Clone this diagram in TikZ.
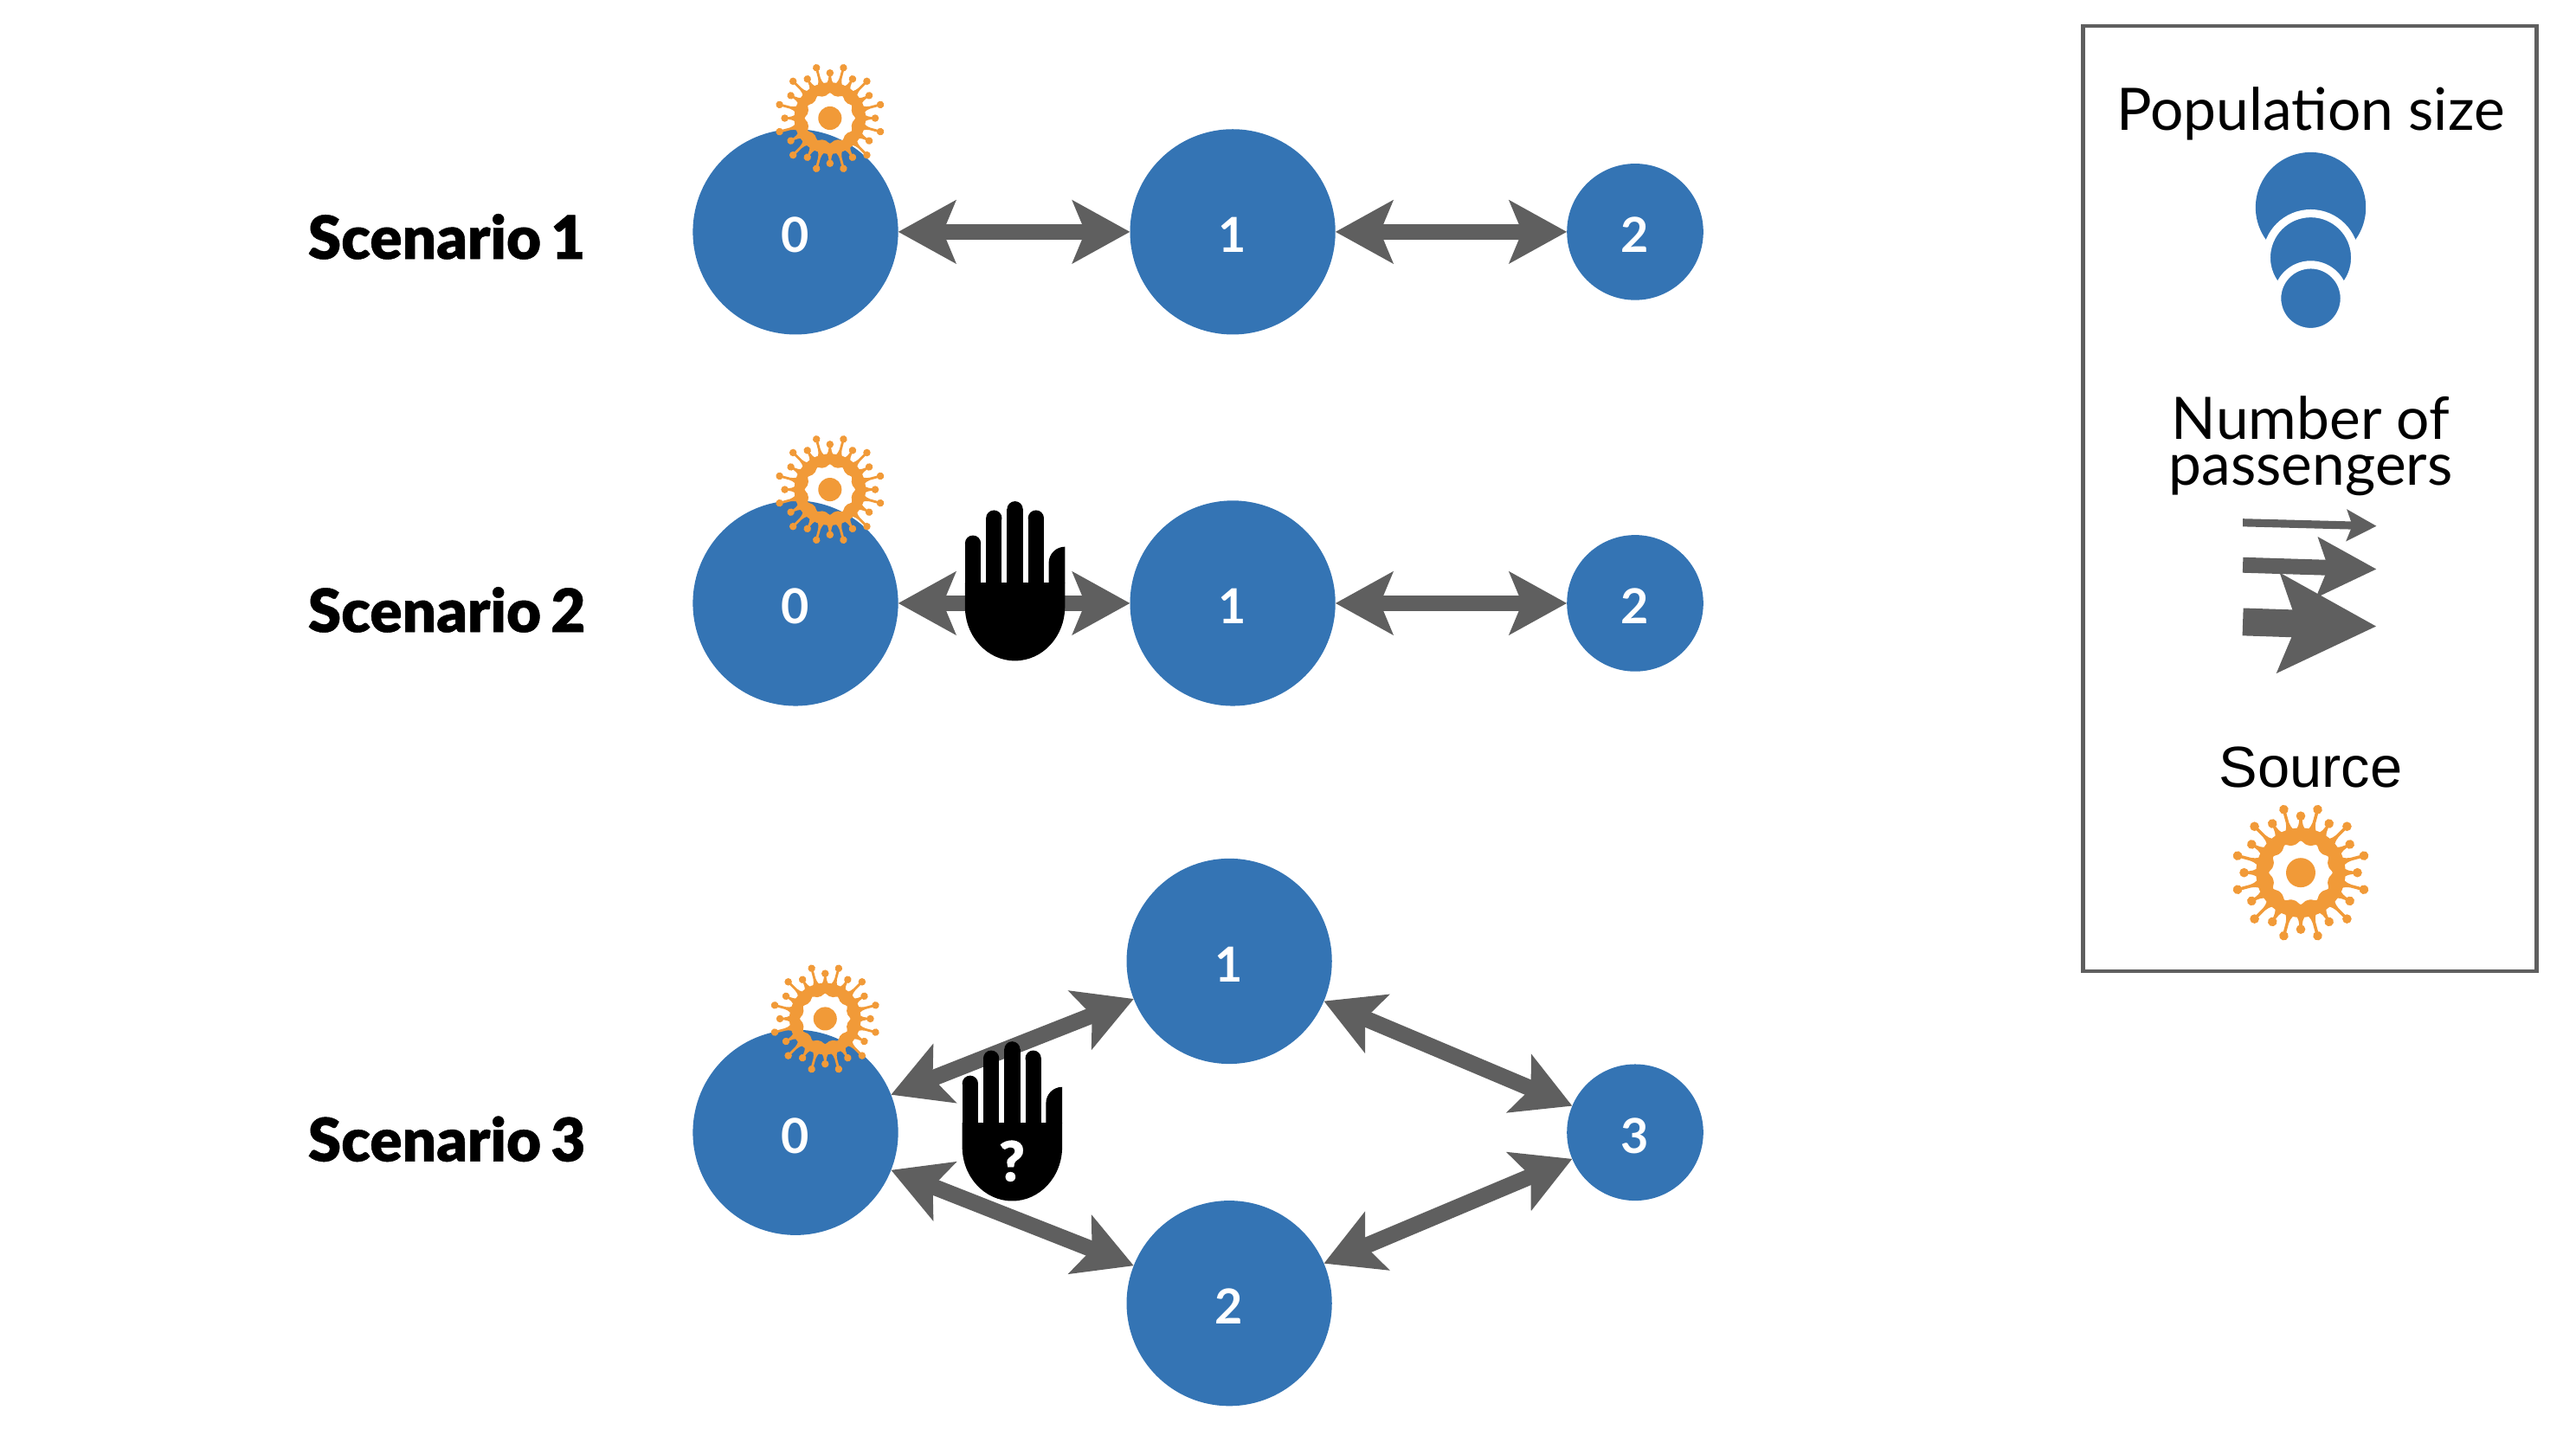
\documentclass[tikz,border=0pt]{standalone}
\usepackage{fontspec}
\setmainfont{Lato}
\newfontfamily\heavyfont[FakeBold=0.6, WordSpace=0.7]{Lato Black}
\newfontfamily\sourcefont{Liberation Sans}
\usetikzlibrary{arrows.meta, positioning}
\definecolor{popblue}{HTML}{3474B4}
\definecolor{linkgray}{HTML}{5F5F5F}
\definecolor{virusorange}{HTML}{F19A38}
\tikzset{
    population/.style = {
      circle, fill=popblue, text=white, inner sep=0, outer sep=0,
      text height=12pt, text depth=0pt,
      font=\fontsize{14}{14}\selectfont\bfseries,
    },
    pop big/.style = {population, minimum size=59.6pt},
    pop small/.style = {population, minimum size=39.6pt},
    pop legend/.style = {population, draw=white, line width=2.3pt},
    link/.style = {
      line width=4.7pt, linkgray,
      arrows={Stealth[length=16.6pt, width=18pt, inset=3.6pt]-Stealth[length=16.6pt, width=18pt, inset=3.6pt]},
    },
    scenario/.style = {anchor=west, inner sep=0, font=\fontsize{17.4}{17.4}\heavyfont},
    legend label/.style = {align=center, inner sep=0, font=\fontsize{17}{13.2}\selectfont},
    virus/.style = {fill=virusorange},
}
\newcommand{\virusspike}[2]{%
  \fill [virus, rotate=#1]
    (0.58,-0.08) .. controls (0.68,-0.03) and (0.70,-0.022) .. (0.74,-0.022)
    -- (#2,-0.022) -- (#2,0.022) -- (0.74,0.022)
    .. controls (0.70,0.022) and (0.68,0.03) .. (0.58,0.08) -- cycle
    (#2,0) circle (0.066);
}
\newcommand{\drawvirus}[2]{%
  %% Arguments:
  %%    1. Centre
  %%    2. Outer radius in pt
  \begin{scope}[shift={(#1)}, x=#2pt, y=#2pt]
    \fill [virus, even odd rule] (0,0) circle (0.64)
      plot [domain=0:350, samples=36, smooth cycle] (\x:{0.425+0.03*cos(12*\x)});
    \fill [virus] (0,0) circle (0.21);
    \foreach \a in {0,30,...,330}{%
      \virusspike{\a}{0.81}
    }
    \foreach \a in {15,45,...,345}{%
      \virusspike{\a}{0.935}
    }
  \end{scope}
}
\newcommand{\drawhand}[1]{%
  %% The argument is the point where the fingers meet the palm
  \begin{scope}[shift={(#1)}]
    \fill (-14.5,0) -- (14.5,0) -- (14.5,-7)
      arc [start angle=0, end angle=-180, x radius=14.5, y radius=15.7] -- cycle;
    \fill (9.8,-0.1) -- (9.8,5.7) arc [start angle=180, end angle=90, radius=4.7]
      -- (14.5,-0.1) -- cycle;
    \foreach \fx/\fy in {-12.2/11.4, -6.1/18.7, 0/21.3, 6.1/18.7}{%
      \fill (\fx-2.3,-0.1) rectangle (\fx+2.3,\fy);
      \fill (\fx,\fy) circle (2.3);
    }
  \end{scope}
}

\begin{document}
\begin{tikzpicture}[x=1pt, y=1pt]
    \useasboundingbox (0,0) rectangle (747.7,-416.6);

    %% Scenario 1
    \node [pop big] (s1_0) at (230.9,-67.3) {0};
    \node [pop big, right=67.3pt of s1_0] (s1_1) {1};
    \node [pop small, right=67.2pt of s1_1] (s1_2) {2};
    \node [scenario] (s1_label) at (89.2,-68.7) {Scenario 1};
    \draw [link] (s1_0) -- (s1_1);
    \draw [link] (s1_1) -- (s1_2);
    \drawvirus{240.9,-34.3}{16.2}

    %% Scenario 2
    \node [pop big, below=48.2pt of s1_0] (s2_0) {0};
    \node [pop big, right=67.3pt of s2_0] (s2_1) {1};
    \node [pop small, right=67.2pt of s2_1] (s2_2) {2};
    \node [scenario] (s2_label) at (89.2,-177) {Scenario 2};
    \draw [link] (s2_0) -- (s2_1);
    \draw [link] (s2_1) -- (s2_2);
    \drawvirus{240.9,-142.1}{16.2}
    \drawhand{294.6,-169.1}

    %% Scenario 3
    \node [pop big, below=94pt of s2_0] (s3_0) {0};
    \node [pop big] (s3_1) at (356.8,-279) {1};
    \node [pop big] (s3_2) at (356.8,-378.3) {2};
    \node [pop small] (s3_3) at (474.6,-328.7) {3};
    \node [scenario] (s3_label) at (89.2,-330.6) {Scenario 3};
    \draw [link] (s3_0) -- (s3_1);
    \draw [link] (s3_0) -- (s3_2);
    \draw [link] (s3_1) -- (s3_3);
    \draw [link] (s3_2) -- (s3_3);
    \drawvirus{239.5,-295.7}{16.2}
    \drawhand{293.8,-325.9}
    \node [text=white, font=\fontsize{16}{16}\heavyfont] (s3_unknown) at (293.7,-337) {?};

    %% Legend
    \node [draw=linkgray, line width=1.15pt, minimum width=131.7pt, minimum height=274.3pt, inner sep=0]
          (legend) at (670.4,-144.7) {};
    \node [legend label] (size_label) at (670.7,-33.1) {Population size};
    \node [population, minimum size=32pt] (size_a) at (670.7,-60.2) {};
    \node [pop legend, minimum size=25.7pt] (size_b) at (670.7,-74.8) {};
    \node [pop legend, minimum size=19.5pt] (size_c) at (670.7,-86.6) {};
    \node [legend label] (count_label) at (670.7,-129.4) {Number of\\passengers};

    \coordinate (thin_a) at (651,-151.7);
    \coordinate (thin_b) at (689.8,-152.7);
    \coordinate (mid_a) at (651,-164);
    \coordinate (mid_b) at (689.8,-165.2);
    \coordinate (thick_a) at (651,-180.5);
    \coordinate (thick_b) at (689.8,-181.8);
    \draw [line width=2.3pt, linkgray, -{Stealth[length=8.6pt, width=9pt, inset=1.6pt]}] (thin_a) -- (thin_b);
    \draw [line width=4.5pt, linkgray, -{Stealth[length=17pt, width=17pt, inset=3pt]}] (mid_a) -- (mid_b);
    \draw [line width=8pt, linkgray, -{Stealth[length=28pt, width=28pt, inset=5pt]}] (thick_a) -- (thick_b);

    \node [legend label, font=\fontsize{16.8}{16.8}\sourcefont] (source_label) at (670.7,-222.8) {Source};
    \drawvirus{667.8,-253.3}{20.3}
\end{tikzpicture}
\end{document}
